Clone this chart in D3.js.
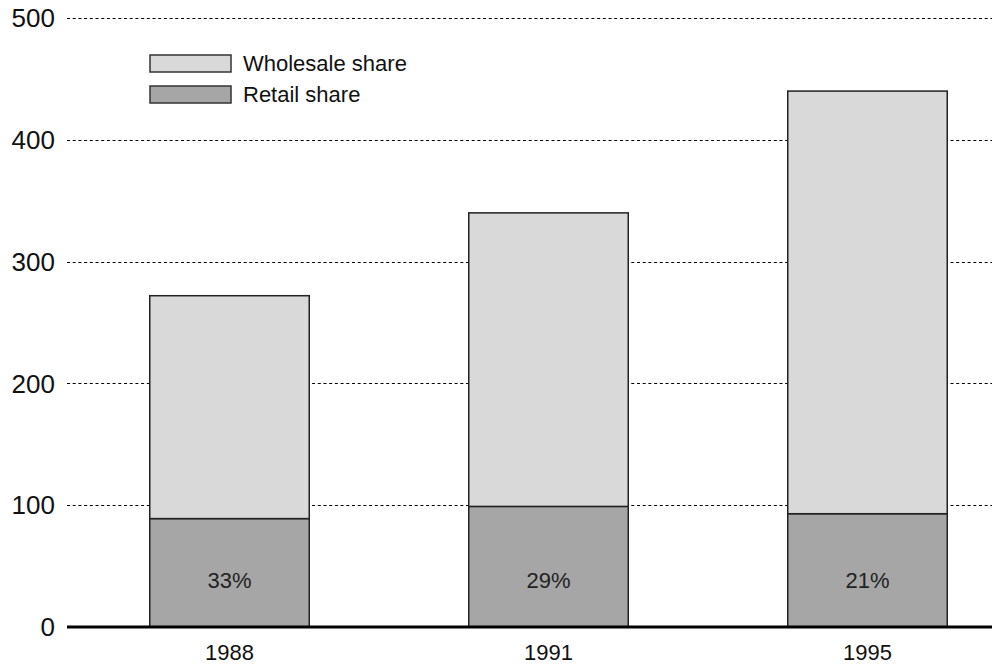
<!DOCTYPE html>
<html>
<head>
<meta charset="utf-8">
<script src="https://cdn.jsdelivr.net/npm/d3@7"></script>
<style>
  html, body { margin: 0; padding: 0; background: #fff; }
  svg { display: block; font-family: "Liberation Sans", Arial, sans-serif; }
</style>
</head>
<body>
<svg id="chart" width="992" height="665"></svg>
<script>
const years = ["1988", "1991", "1995"];
const retailShare = [89, 99, 93];
const wholesaleShare = [183, 241, 347];
const percentLabels = ["33%", "29%", "21%"];
const yTicks = [0, 100, 200, 300, 400, 500];
const seriesNames = ["Wholesale share", "Retail share"];
const seriesColors = { "Retail share": "#a6a6a6", "Wholesale share": "#d9d9d9" };

const svg = d3.select("#chart");
const x0 = 67, x1 = 992;

const y = d3.scaleLinear().domain([0, 500]).range([627, 18]);
const x = d3.scaleBand().domain(years).range([70, 1027]).paddingInner(0.5).paddingOuter(0.25);

// gridlines
svg.append("g").selectAll("line").data(yTicks.filter(d => d > 0)).join("line")
  .attr("x1", x0).attr("x2", x1)
  .attr("y1", d => Math.round(y(d)) + 0.5).attr("y2", d => Math.round(y(d)) + 0.5)
  .attr("stroke", "#000").attr("stroke-width", 1).attr("stroke-dasharray", "3,2.7");

// y tick labels
svg.append("g").selectAll("text").data(yTicks).join("text")
  .attr("x", 55).attr("y", d => y(d)).attr("dy", "0.35em")
  .attr("text-anchor", "end").attr("font-size", 26).attr("fill", "#111")
  .text(d => d);

// stacked bars
const rows = years.map((yr, i) => ({ year: yr, "Retail share": retailShare[i], "Wholesale share": wholesaleShare[i] }));
const stack = d3.stack().keys(["Retail share", "Wholesale share"])(rows);

svg.append("g").selectAll("g").data(stack).join("g")
  .attr("fill", d => seriesColors[d.key])
  .selectAll("rect").data(d => d).join("rect")
  .attr("x", d => x(d.data.year))
  .attr("width", x.bandwidth())
  .attr("y", d => y(d[1]))
  .attr("height", d => y(d[0]) - y(d[1]))
  .attr("stroke", "#222").attr("stroke-width", 1.5);

// percent labels
svg.append("g").selectAll("text").data(years).join("text")
  .attr("x", d => x(d) + x.bandwidth() / 2)
  .attr("y", y(0) - 39)
  .attr("text-anchor", "middle").attr("font-size", 22).attr("fill", "#222")
  .text((d, i) => percentLabels[i]);

// baseline
svg.append("line").attr("x1", x0).attr("x2", x1)
  .attr("y1", y(0)).attr("y2", y(0))
  .attr("stroke", "#000").attr("stroke-width", 3);

// x labels
svg.append("g").selectAll("text").data(years).join("text")
  .attr("x", d => x(d) + x.bandwidth() / 2)
  .attr("y", 660)
  .attr("text-anchor", "middle").attr("font-size", 22).attr("fill", "#111")
  .text(d => d);

// legend
const leg = svg.append("g").selectAll("g").data(seriesNames).join("g")
  .attr("transform", (d, i) => `translate(150,${55 + i * 31})`);
leg.append("rect").attr("width", 81).attr("height", 17)
  .attr("fill", d => seriesColors[d]).attr("stroke", "#333").attr("stroke-width", 1.5);
leg.append("text").attr("x", 93).attr("y", 8.5).attr("dy", "0.35em")
  .attr("font-size", 22).attr("fill", "#111").text(d => d);
</script>
</body>
</html>
